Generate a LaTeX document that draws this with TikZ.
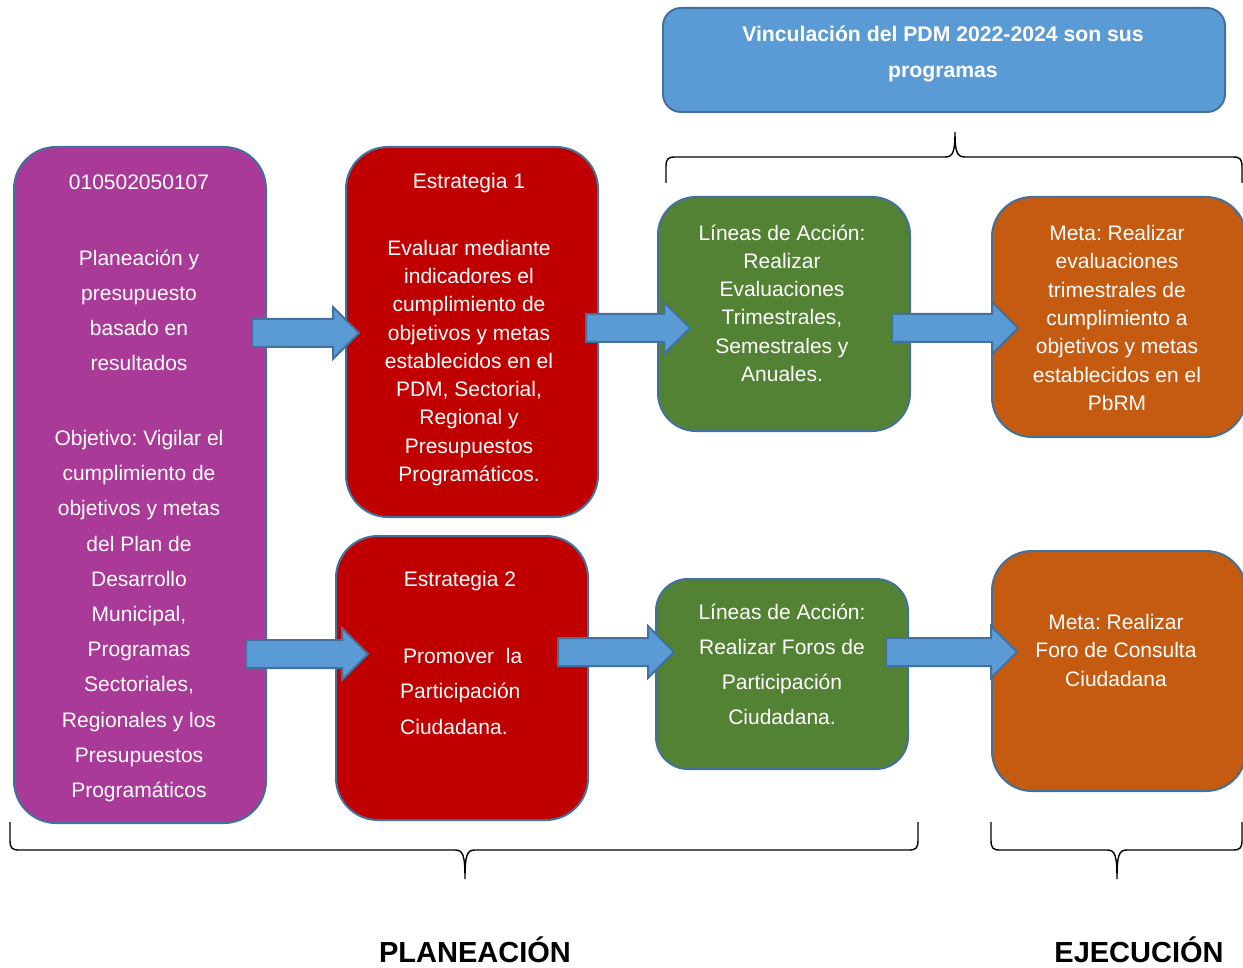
\documentclass[tikz,border=0pt]{standalone}
\usepackage{fontspec}
\setmainfont{Liberation Sans}
\usetikzlibrary{shapes.arrows}
\definecolor{cpurple}{HTML}{AA3A98}
\definecolor{cred}{HTML}{C00000}
\definecolor{cgreen}{HTML}{548235}
\definecolor{corange}{HTML}{C55A11}
\definecolor{cblue}{HTML}{5B9BD5}
\definecolor{cborder}{HTML}{41719C}
\tikzset{
  boxshape/.style={draw=cborder, line width=2pt, inner sep=0pt, outer sep=0pt},
  blockarrow/.style={single arrow, draw=cborder, fill=cblue, line width=2pt,
    inner xsep=0pt, inner ysep=13pt, single arrow head extend=12pt,
    single arrow tip angle=90, outer sep=0pt, anchor=tip, minimum width=50pt},
  txt/.style={text=white, align=center, inner sep=0pt, font=\fontsize{21pt}{#1}\selectfont},
  txt/.default={28.25pt},
  brace/.style={draw=black, line width=1.4pt},
  biglabel/.style={text=black, inner sep=0pt, anchor=base, font=\fontsize{29pt}{34pt}\selectfont\bfseries}
}
\frenchspacing
\begin{document}
\begin{tikzpicture}[x=1pt,y=-1pt]
\useasboundingbox (0,0) rectangle (1243,968);
% boxes
\node[boxshape, fill=cpurple, minimum width=252pt, minimum height=676pt, rounded corners=42pt] (purple) at (140,485) {};
\node[boxshape, fill=cred, minimum width=252pt, minimum height=370pt, rounded corners=42pt] (red1) at (472,332) {};
\node[boxshape, fill=cred, minimum width=252pt, minimum height=284pt, rounded corners=42pt] (red2) at (462,678) {};
\node[boxshape, fill=cgreen, minimum width=252pt, minimum height=234pt, rounded corners=38pt] (green1) at (784,314) {};
\node[boxshape, fill=cgreen, minimum width=252pt, minimum height=190pt, rounded corners=32pt] (green2) at (782,674) {};
\node[boxshape, fill=corange, minimum width=254pt, minimum height=240pt, rounded corners=40pt] (orange1) at (1119,317) {};
\node[boxshape, fill=corange, minimum width=254pt, minimum height=240pt, rounded corners=40pt] (orange2) at (1119,671) {};
\node[boxshape, fill=cblue, minimum width=562pt, minimum height=104pt, rounded corners=18pt] (title) at (944,60) {};
% arrows (anchored at their tips)
\node[blockarrow, minimum height=107pt] (a1) at (359,333) {};
\node[blockarrow, minimum height=104pt] (a2) at (690,328) {};
\node[blockarrow, minimum height=126pt] (a3) at (1018,328) {};
\node[blockarrow, minimum height=122pt] (a4) at (368,654) {};
\node[blockarrow, minimum height=116pt] (a5) at (674,652) {};
\node[blockarrow, minimum height=131pt] (a6) at (1017,652) {};
% texts
\node[txt] (p1) at (139,182) {010502050107};
\node[txt=35pt] (p2) at (139,310) {Planeación y\\presupuesto\\basado en\\resultados};
\node[txt=35.2pt] (p3) at (139,616) {Objetivo: Vigilar el\\cumplimiento de\\objetivos y metas\\del Plan de\\Desarrollo\\Municipal,\\Programas\\Sectoriales,\\Regionales y los\\Presupuestos\\Programáticos};
\node[txt] (r1a) at (469,183) {Estrategia 1};
\node[txt] (r1b) at (469,363) {Evaluar mediante\\indicadores el\\cumplimiento de\\objetivos y metas\\establecidos en el\\PDM, Sectorial,\\Regional y\\Presupuestos\\Programáticos.};
\node[txt] (r2a) at (460,581) {Estrategia 2};
\node[txt=35.5pt, align=left, anchor=west] (r2b) at (400,691) {\hspace*{3pt}Promover\ \ la\\Participación\\Ciudadana.};
\node[txt] (g1) at (782,303) {Líneas de Acción:\\Realizar\\Evaluaciones\\Trimestrales,\\Semestrales y\\Anuales.};
\node[txt=35pt] (g2) at (782,664) {Líneas de Acción:\\Realizar Foros de\\Participación\\Ciudadana.};
\node[txt=28.3pt] (o1) at (1117,318) {Meta: Realizar\\evaluaciones\\trimestrales de\\cumplimiento a\\objetivos y metas\\establecidos en el\\PbRM};
\node[txt=28.5pt] (o2) at (1116,650) {Meta: Realizar\\Foro de Consulta\\Ciudadana};
\node[txt=36pt, font=\fontsize{21.2pt}{36pt}\selectfont\bfseries] (t) at (943,54) {Vinculación del PDM 2022-2024 son sus\\programas};
% braces
\coordinate (tbl) at (666,183);
\coordinate (tbr) at (1242,183);
\coordinate (tbt) at (955,132);
\draw[brace] (tbl) -- (666,167) .. controls (666,159) and (668,157) .. (675,157) -- (945,157)
  .. controls (953,157) and (955,152) .. (tbt)
  .. controls (955,152) and (957,157) .. (965,157) -- (1233,157)
  .. controls (1240,157) and (1242,159) .. (1242,167) -- (tbr);
\coordinate (blt) at (10,822);
\coordinate (blr) at (918,822);
\coordinate (blm) at (465,879);
\draw[brace] (blt) -- (10,840) .. controls (10,848) and (12,850) .. (19,850) -- (455,850)
  .. controls (463,850) and (465,855) .. (blm)
  .. controls (465,855) and (467,850) .. (475,850) -- (909,850)
  .. controls (916,850) and (918,848) .. (918,840) -- (blr);
\coordinate (brl) at (991,822);
\coordinate (brr) at (1242,822);
\coordinate (brm) at (1117,879);
\draw[brace] (brl) -- (991,840) .. controls (991,848) and (993,850) .. (1000,850) -- (1107,850)
  .. controls (1115,850) and (1117,855) .. (brm)
  .. controls (1117,855) and (1119,850) .. (1127,850) -- (1233,850)
  .. controls (1240,850) and (1242,848) .. (1242,840) -- (brr);
% labels
\node[biglabel] (plan) at (475,962) {PLANEACIÓN};
\node[biglabel] (ejec) at (1139,962) {EJECUCIÓN};
\end{tikzpicture}
\end{document}
